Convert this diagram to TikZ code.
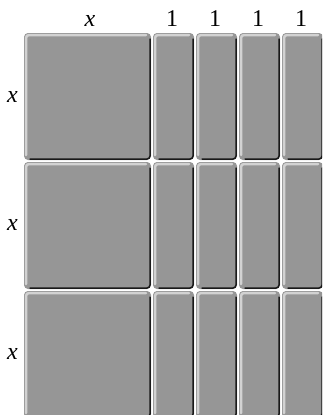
\documentclass[tikz,border=0pt]{standalone}
\usepackage{fontspec}
\newfontfamily\labelfont{Liberation Serif}
\definecolor{tilegray}{RGB}{150,150,150}
\definecolor{tilelight}{RGB}{210,210,210}
\definecolor{tiledark}{RGB}{25,25,25}
\tikzset{
  tilebody/.style={fill=tilegray, rounded corners=4pt},
  tilehigh/.style={draw=tilelight, line width=2.5pt, rounded corners=3pt, line cap=round},
  tileshade/.style={draw=tiledark, line width=1.5pt, rounded corners=3pt, line cap=round},
  lbl/.style={font=\labelfont\fontsize{24}{28}\selectfont, inner sep=0pt}
}
% one tile: left, top, width, height
\newcommand\algtile[4]{%
  \fill[tilebody] (#1,#2) rectangle ++(#3,#4);
  \draw[tilehigh] (#1+2,#2+#4-5) -- (#1+2,#2+2) -- (#1+#3-5,#2+2);
  \draw[tileshade] (#1+#3-1,#2+6) -- (#1+#3-1,#2+#4-1) -- (#1+6,#2+#4-1);
}
\begin{document}
\begin{tikzpicture}[x=1pt, y=-1pt]
    \useasboundingbox (0,0) rectangle (322,415);

    % tiles, cut off at right and bottom
    \begin{scope}
        \clip (0,0) rectangle (322,415);
        \foreach \ty in {33,162,291} {
            \algtile{24}{\ty}{127}{127}
            \foreach \tx in {153,196,239,282} {
                \algtile{\tx}{\ty}{41}{127}
            }
        }
    \end{scope}

    % column labels
    \node[lbl] (topx) at (90,21) {\itshape x};
    \foreach \c [count=\i] in {172,215,258,301}
        \node[lbl] (one\i) at (\c,18.5) {1};

    % row labels
    \foreach \r [count=\i] in {97,225,354}
        \node[lbl] (side\i) at (12.5,\r) {\itshape x};
\end{tikzpicture}
\end{document}
